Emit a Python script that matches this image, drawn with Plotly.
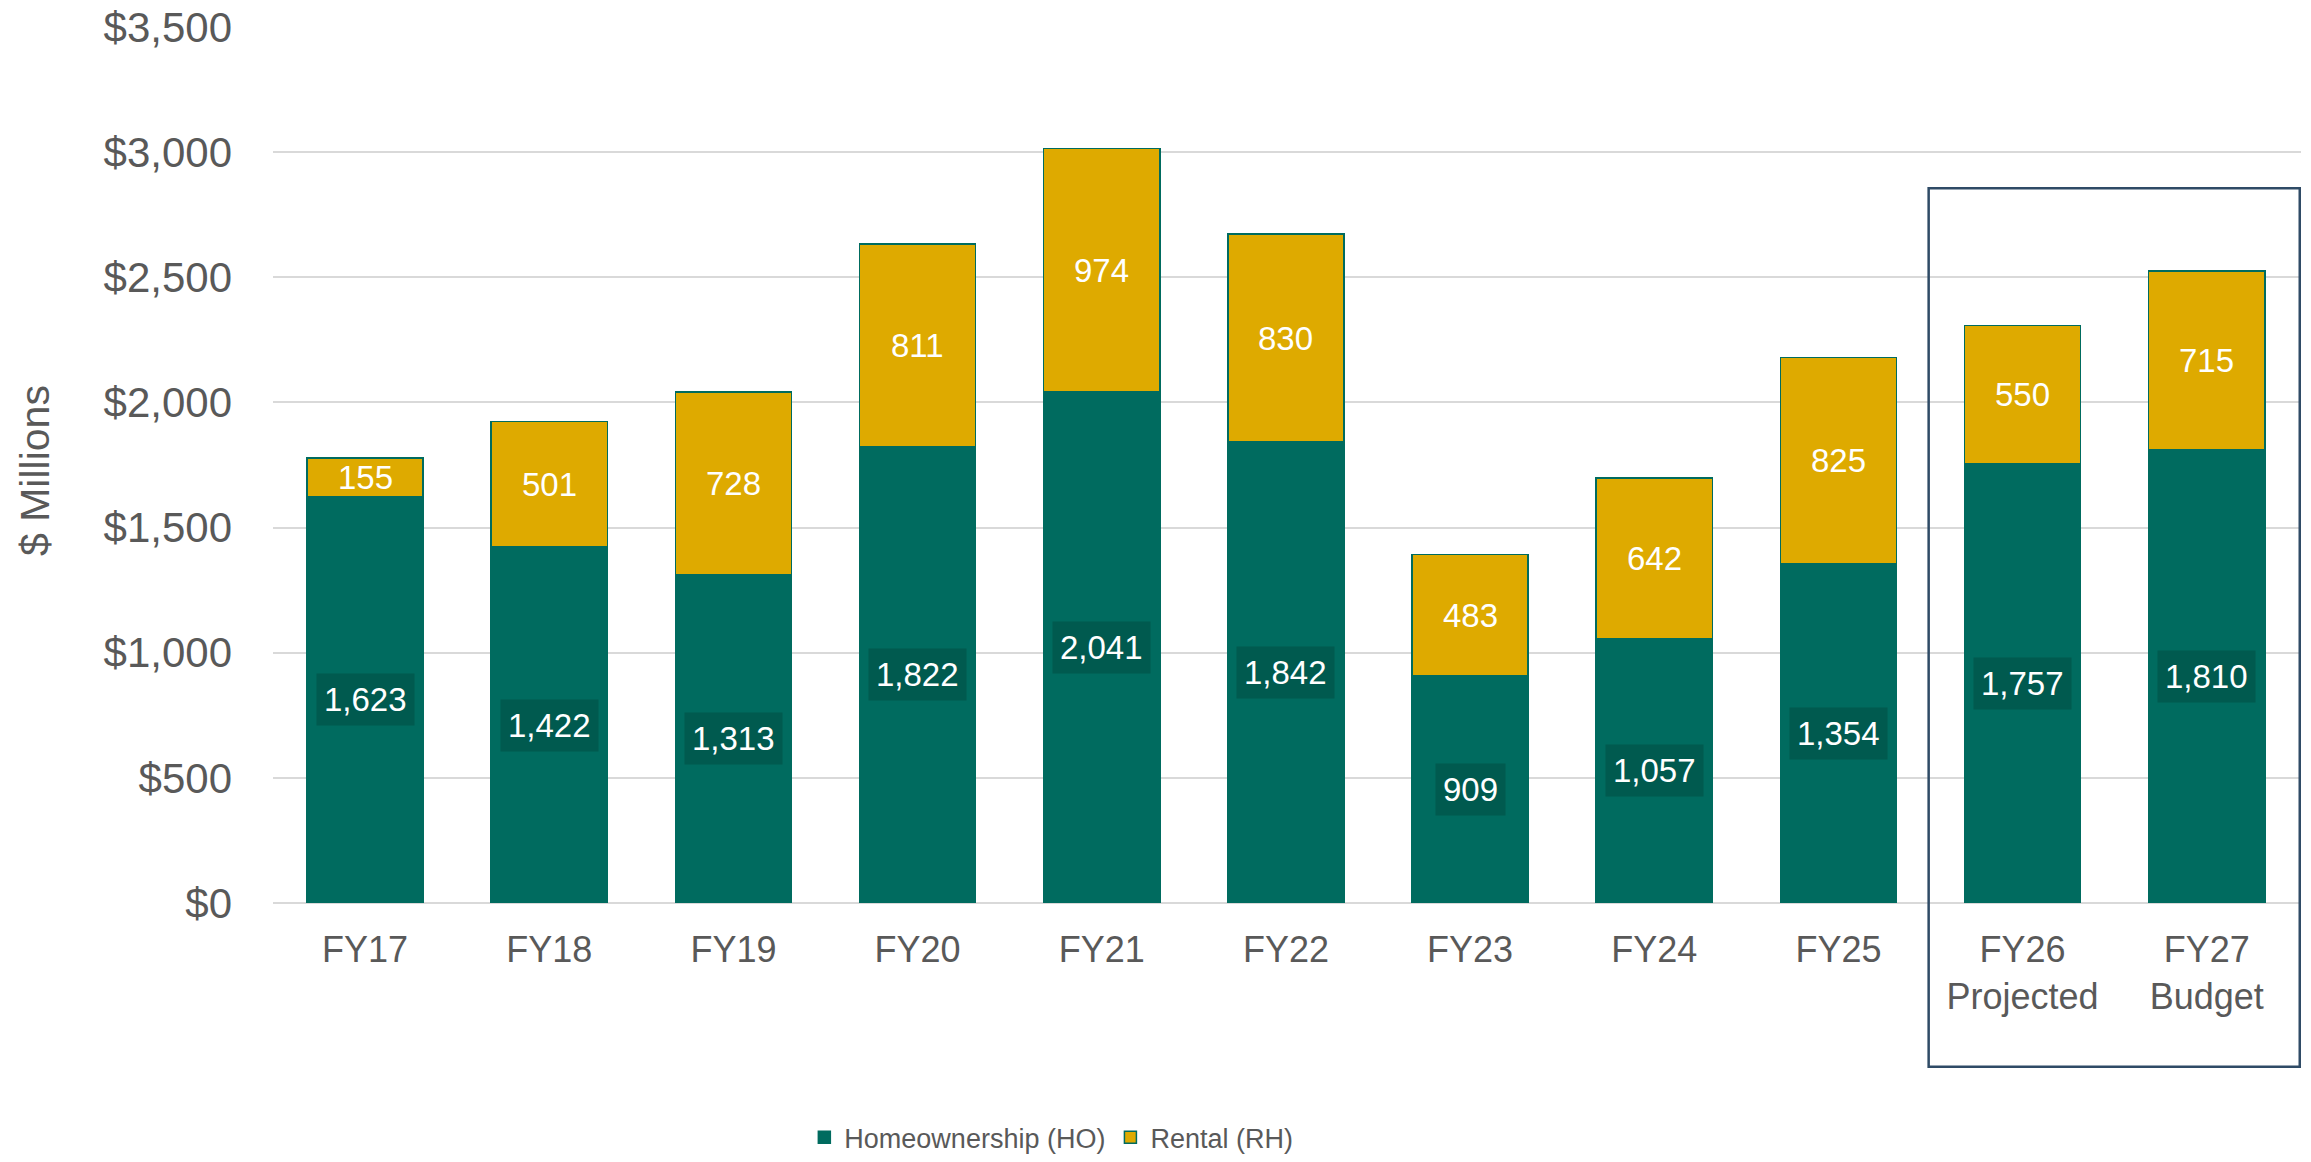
import plotly.graph_objects as go

categories = ["FY17", "FY18", "FY19", "FY20", "FY21", "FY22", "FY23", "FY24", "FY25",
              "FY26<br>Projected", "FY27<br>Budget"]
homeownership = [1623, 1422, 1313, 1822, 2041, 1842, 909, 1057, 1354, 1757, 1810]
rental = [155, 501, 728, 811, 974, 830, 483, 642, 825, 550, 715]
y_ticks = [0, 500, 1000, 1500, 2000, 2500, 3000, 3500]
y_tick_text = ["$0", "$500", "$1,000", "$1,500", "$2,000", "$2,500", "$3,000", "$3,500"]

TEAL = "#006B5F"
TEAL_DARK = "#005A4F"
GOLD = "#DEAA00"
GREY = "#595959"
FONT = "Arial, Liberation Sans, sans-serif"

fig = go.Figure()
fig.add_trace(go.Bar(
    x=categories, y=homeownership, name="Homeownership (HO)",
    marker=dict(color=TEAL, line=dict(color=TEAL, width=1.5)),
    hoverinfo="skip",
))
fig.add_trace(go.Bar(
    x=categories, y=rental, name="Rental (RH)",
    marker=dict(color=GOLD, line=dict(color=TEAL, width=1.5)),
    hoverinfo="skip",
))

annotations = []
for c, h, r in zip(categories, homeownership, rental):
    annotations.append(dict(
        x=c, y=h / 2, xref="x", yref="y", text=f"{h:,}", showarrow=False,
        font=dict(family=FONT, size=33, color="white"),
        bgcolor=TEAL_DARK, borderpad=7, xanchor="center", yanchor="middle",
    ))
    annotations.append(dict(
        x=c, y=h + r / 2, xref="x", yref="y", text=f"{r:,}", showarrow=False,
        font=dict(family=FONT, size=33, color="white"),
        xanchor="center", yanchor="middle",
    ))
annotations.append(dict(
    x=-0.117, y=0.494, xref="paper", yref="paper", text="$ Millions",
    textangle=-90, showarrow=False, xanchor="center", yanchor="middle",
    font=dict(family=FONT, size=41, color=GREY),
))

fig.update_layout(
    barmode="stack",
    bargap=0.37,
    width=2311, height=1162,
    margin=dict(l=273, r=10, t=27, b=259, autoexpand=False),
    paper_bgcolor="white", plot_bgcolor="white",
    font=dict(family=FONT, color=GREY),
    annotations=annotations,
    showlegend=True,
    legend=dict(
        orientation="h", x=0.262, y=-0.268, xanchor="left", yanchor="middle",
        font=dict(family=FONT, size=27, color=GREY),
        itemwidth=30, traceorder="normal",
    ),
    shapes=[dict(
        type="rect", xref="x", yref="paper",
        x0=8.49, x1=10.505, y0=-0.187, y1=0.816,
        line=dict(color="#2F4B66", width=2.5), fillcolor="rgba(0,0,0,0)",
    )],
)
fig.update_xaxes(
    showgrid=False, showline=False, ticks="", automargin=False,
    tickfont=dict(family=FONT, size=36, color=GREY),
    ticklabelstandoff=22,
)
fig.update_yaxes(
    range=[0, 3500], tickvals=y_ticks, ticktext=y_tick_text, automargin=False,
    showgrid=True, gridcolor="#D9D9D9", gridwidth=2,
    zeroline=True, zerolinecolor="#D9D9D9", zerolinewidth=2,
    showline=False, ticks="",
    tickfont=dict(family=FONT, size=42, color=GREY),
    ticklabelstandoff=40,
)

fig.write_html(
    "out.html",
    config={"displayModeBar": False},
    post_script="document.body.style.margin='0';document.body.style.overflow='hidden';",
)
